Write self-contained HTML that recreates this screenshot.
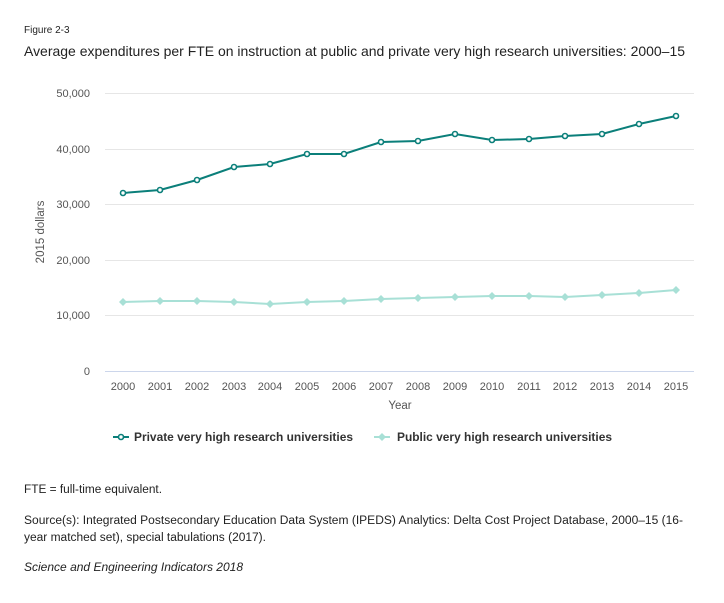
<!DOCTYPE html>
<html><head><meta charset="utf-8"><style>
body{margin:0;background:#fff;font-family:"Liberation Sans",sans-serif;}
</style></head><body>
<svg width="724" height="598" xmlns="http://www.w3.org/2000/svg" font-family="Liberation Sans, sans-serif">
<text x="24" y="33" font-size="10" fill="#222">Figure 2-3</text>
<text x="24" y="56" font-size="14" fill="#222" textLength="661" lengthAdjust="spacingAndGlyphs">Average expenditures per FTE on instruction at public and private very high research universities: 2000–15</text>
<g stroke="#e6e6e6" stroke-width="1">
<line x1="105" x2="694" y1="93.5" y2="93.5"/><line x1="105" x2="694" y1="149.5" y2="149.5"/>
<line x1="105" x2="694" y1="204.5" y2="204.5"/><line x1="105" x2="694" y1="260.5" y2="260.5"/>
<line x1="105" x2="694" y1="315.5" y2="315.5"/>
</g>
<line x1="105" x2="694" y1="371.5" y2="371.5" stroke="#ccd6eb"/>
<g font-size="11" fill="#555" text-anchor="end">
<text x="90" y="97">50,000</text><text x="90" y="153">40,000</text><text x="90" y="208">30,000</text>
<text x="90" y="264">20,000</text><text x="90" y="319">10,000</text><text x="90" y="375">0</text>
</g>
<text transform="translate(44,232) rotate(-90)" font-size="11.5" fill="#555" text-anchor="middle">2015 dollars</text>
<g font-size="11" fill="#555" text-anchor="middle">
<text x="123" y="390">2000</text><text x="160" y="390">2001</text><text x="197" y="390">2002</text><text x="234" y="390">2003</text>
<text x="270" y="390">2004</text><text x="307" y="390">2005</text><text x="344" y="390">2006</text><text x="381" y="390">2007</text>
<text x="418" y="390">2008</text><text x="455" y="390">2009</text><text x="492" y="390">2010</text><text x="529" y="390">2011</text>
<text x="565" y="390">2012</text><text x="602" y="390">2013</text><text x="639" y="390">2014</text><text x="676" y="390">2015</text>
</g>
<text x="400" y="409" font-size="11.5" fill="#555" text-anchor="middle">Year</text>
<polyline fill="none" stroke="#a8e0d6" stroke-width="2" points="123,302 160,301 197,301 234,302 270,304 307,302 344,301 381,299 418,298 455,297 492,296 529,296 565,297 602,295 639,293 676,290"/>
<g fill="#a8e0d6">
<path d="M123,298l4,4l-4,4l-4,-4z"/><path d="M160,297l4,4l-4,4l-4,-4z"/><path d="M197,297l4,4l-4,4l-4,-4z"/><path d="M234,298l4,4l-4,4l-4,-4z"/>
<path d="M270,300l4,4l-4,4l-4,-4z"/><path d="M307,298l4,4l-4,4l-4,-4z"/><path d="M344,297l4,4l-4,4l-4,-4z"/><path d="M381,295l4,4l-4,4l-4,-4z"/>
<path d="M418,294l4,4l-4,4l-4,-4z"/><path d="M455,293l4,4l-4,4l-4,-4z"/><path d="M492,292l4,4l-4,4l-4,-4z"/><path d="M529,292l4,4l-4,4l-4,-4z"/>
<path d="M565,293l4,4l-4,4l-4,-4z"/><path d="M602,291l4,4l-4,4l-4,-4z"/><path d="M639,289l4,4l-4,4l-4,-4z"/><path d="M676,286l4,4l-4,4l-4,-4z"/>
</g>
<polyline fill="none" stroke="#0b7f7a" stroke-width="2" points="123,193 160,190 197,180 234,167 270,164 307,154 344,154 381,142 418,141 455,134 492,140 529,139 565,136 602,134 639,124 676,116"/>
<g fill="#fff" stroke="#0b7f7a" stroke-width="1.6">
<circle cx="123" cy="193" r="2.5"/><circle cx="160" cy="190" r="2.5"/><circle cx="197" cy="180" r="2.5"/><circle cx="234" cy="167" r="2.5"/>
<circle cx="270" cy="164" r="2.5"/><circle cx="307" cy="154" r="2.5"/><circle cx="344" cy="154" r="2.5"/><circle cx="381" cy="142" r="2.5"/>
<circle cx="418" cy="141" r="2.5"/><circle cx="455" cy="134" r="2.5"/><circle cx="492" cy="140" r="2.5"/><circle cx="529" cy="139" r="2.5"/>
<circle cx="565" cy="136" r="2.5"/><circle cx="602" cy="134" r="2.5"/><circle cx="639" cy="124" r="2.5"/><circle cx="676" cy="116" r="2.5"/>
</g>
<line x1="113" x2="129" y1="437" y2="437" stroke="#0b7f7a" stroke-width="2"/>
<circle cx="121" cy="437" r="2.5" fill="#fff" stroke="#0b7f7a" stroke-width="1.6"/>
<text x="134" y="441" font-size="11.5" font-weight="bold" fill="#333" textLength="219" lengthAdjust="spacingAndGlyphs">Private very high research universities</text>
<line x1="374" x2="390" y1="437" y2="437" stroke="#a8e0d6" stroke-width="2"/>
<path d="M382,433l4,4l-4,4l-4,-4z" fill="#a8e0d6"/>
<text x="397" y="441" font-size="11.5" font-weight="bold" fill="#333" textLength="215" lengthAdjust="spacingAndGlyphs">Public very high research universities</text>
<g font-size="11.5" fill="#222">
<text x="24" y="493" textLength="138" lengthAdjust="spacingAndGlyphs">FTE = full-time equivalent.</text>
<text x="24" y="524" textLength="659" lengthAdjust="spacingAndGlyphs">Source(s): Integrated Postsecondary Education Data System (IPEDS) Analytics: Delta Cost Project Database, 2000–15 (16-</text>
<text x="24" y="541" textLength="242" lengthAdjust="spacingAndGlyphs">year matched set), special tabulations (2017).</text>
<text x="24" y="571" font-style="italic" textLength="219" lengthAdjust="spacingAndGlyphs">Science and Engineering Indicators 2018</text>
</g>
</svg>
</body></html>
